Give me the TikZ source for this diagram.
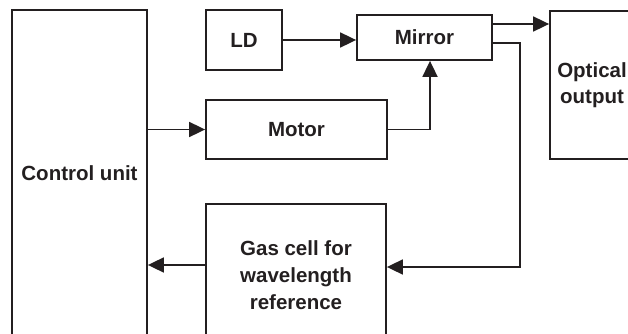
\documentclass[tikz,border=0pt]{standalone}
\usepackage{fontspec}
\setmainfont{Liberation Sans}
\usetikzlibrary{positioning,arrows.meta}
\definecolor{ink}{RGB}{35,31,32}

\begin{document}
\begin{tikzpicture}[x=1pt,y=-1pt,
  box/.style={draw=ink,line width=1.8pt,inner sep=0pt,align=center,
    font=\fontsize{20.5}{26}\selectfont\bfseries,text=ink},
  link/.style={draw=ink,line width=1.8pt,-{Triangle[length=16pt,width=15pt]}}]
  \useasboundingbox (0,0) rectangle (628,334);
  \clip (0,0) rectangle (628,334);
  % blocks
  \node[box,minimum width=135,minimum height=326] (ctrl) at (79.5,173) {Control unit};
  \node[box,minimum width=76,minimum height=60] (ld) at (244,40) {LD};
  \node[box,minimum width=135,minimum height=45] (mirror) at (424.5,37.5) {Mirror};
  \node[box,minimum width=181,minimum height=59] (motor) at (296.5,129.5) {Motor};
  \node[box,minimum width=84,minimum height=148] (optical) at (592,85)
     {Optical\\ output};
  \node[box,minimum width=180,minimum height=142,
     font=\fontsize{20.5}{27}\selectfont\bfseries] (gas) at (296,275)
     {Gas cell for\\ wavelength\\ reference};
  \coordinate (tap) at (520,267);
  % connections
  \draw[link] (ld.east) -- (ld.east -| mirror.west);
  \draw[link] (ctrl.east |- motor) -- (motor.west);
  \draw[link] (motor.east) -| ([xshift=5.5pt]mirror.south);
  \draw[link] ([yshift=13.5pt]mirror.east) -- ([yshift=13.5pt]mirror.east -| optical.west);
  \draw[link] ([yshift=-5.5pt]mirror.east) -| (tap) -- (tap -| gas.east);
  \draw[link] ([yshift=10pt]gas.west) -- ([yshift=10pt]gas.west -| ctrl.east);
\end{tikzpicture}
\end{document}
